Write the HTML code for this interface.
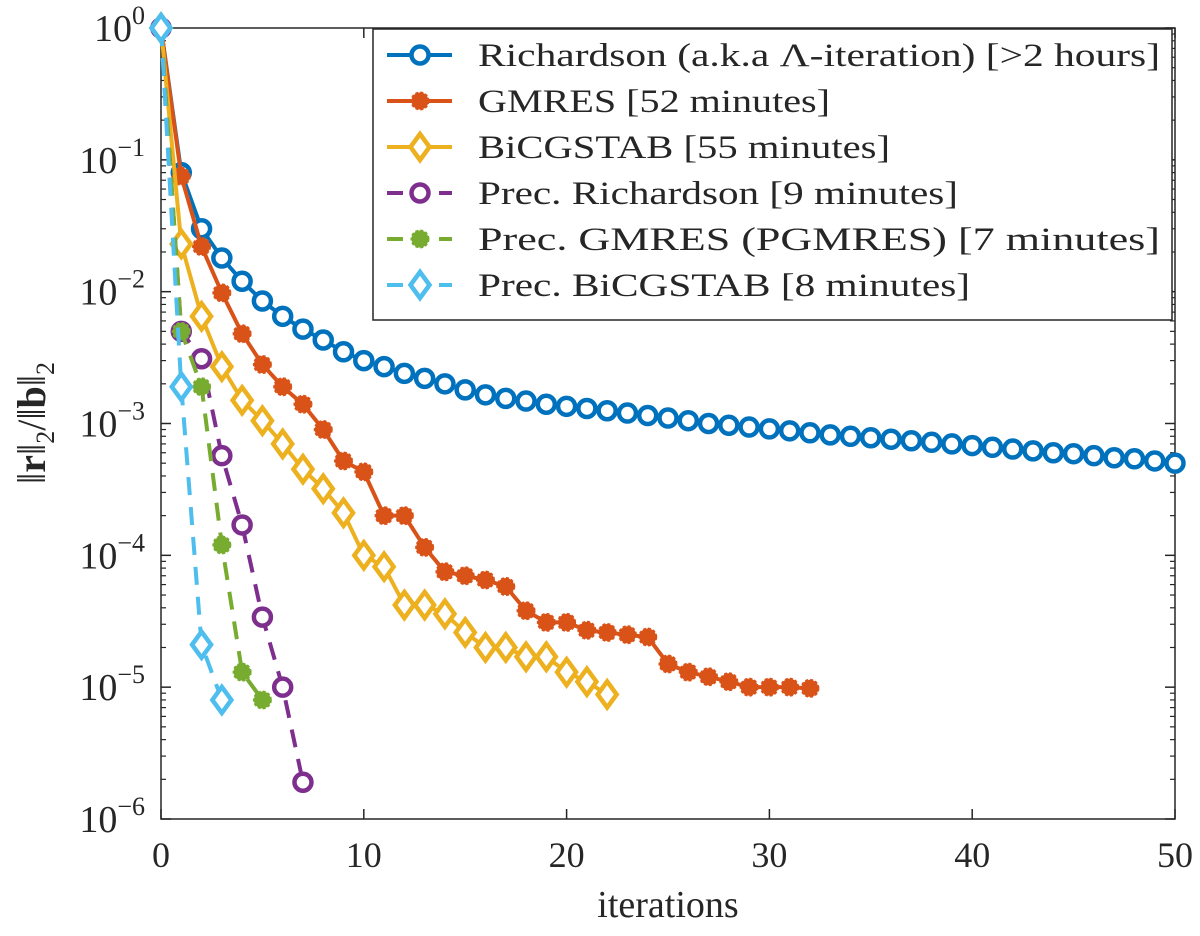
<!DOCTYPE html>
<html><head><meta charset="utf-8"><style>
body{margin:0;background:#fff;}
svg text{font-family:"Liberation Serif",serif;fill:#262626;}
</style></head><body>
<svg id="chart" width="1200" height="931" viewBox="0 0 1200 931" xmlns="http://www.w3.org/2000/svg"></svg>
<script>
const xTicks=[0,10,20,30,40,50];
const yExps=[0,-1,-2,-3,-4,-5,-6];
const names=["Richardson (a.k.a Λ-iteration) [>2 hours]","GMRES [52 minutes]","BiCGSTAB [55 minutes]","Prec. Richardson [9 minutes]","Prec. GMRES (PGMRES) [7 minutes]","Prec. BiCGSTAB [8 minutes]"];
const nameWidths=[682,352,412,480,682,492];
const richardson=[1,0.08,0.03,0.018,0.012,0.0085,0.0065,0.0052,0.0043,0.0035,0.003,0.0027,0.0024,0.0022,0.002,0.0018,0.00165,0.00155,0.00148,0.0014,0.00135,0.0013,0.00125,0.0012,0.00115,0.0011,0.00105,0.001,0.00097,0.00094,0.00091,0.00088,0.00085,0.00082,0.0008,0.00078,0.00076,0.00074,0.00072,0.0007,0.00068,0.00066,0.00064,0.00062,0.0006,0.00059,0.00057,0.00055,0.00054,0.00052,0.0005];
const gmres=[1,0.075,0.022,0.0098,0.0048,0.0028,0.0019,0.0014,0.0009,0.00052,0.00043,0.0002,0.0002,0.000115,0.000075,0.00007,0.000065,0.000058,0.000038,0.000031,0.000031,0.000027,0.000026,0.000025,0.000024,0.000015,0.000013,0.000012,0.000011,0.00001,0.00001,0.00001,0.0000098];
const bicgstab=[1,0.023,0.0065,0.0027,0.0015,0.00105,0.0007,0.00045,0.00032,0.00021,0.0001,0.000082,0.000042,0.000042,0.000036,0.000026,0.00002,0.00002,0.000017,0.000017,0.000013,0.000011,0.0000088];
const precRich=[1,0.005,0.0031,0.00057,0.00017,0.000034,0.00001,0.0000019];
const precGmres=[1,0.005,0.0019,0.00012,0.000013,0.000008];
const precBicg=[1,0.0019,0.000021,0.000008];

const NS="http://www.w3.org/2000/svg";
const svg=document.getElementById('chart');
const L=161,R=1175,T=28,B=819;
const xs=v=>L+(v/50)*(R-L);
const ys=v=>T+(-Math.log10(v)/6)*(B-T);
function el(tag,attrs,parent){const e=document.createElementNS(NS,tag);for(const k in attrs)e.setAttribute(k,attrs[k]);(parent||svg).appendChild(e);return e;}

const box=el('rect',{x:L,y:T,width:R-L,height:B-T,fill:'none',stroke:'#262626','stroke-width':1.5});


xTicks.forEach(t=>{
  const x=xs(t);
  el('line',{x1:x,y1:B,x2:x,y2:B-10,stroke:'#262626','stroke-width':1.5});
  el('line',{x1:x,y1:T,x2:x,y2:T+10,stroke:'#262626','stroke-width':1.5});
  const tx=el('text',{x:x,y:867,'font-size':36,'text-anchor':'middle'});
  tx.textContent=t;
  
  
});
yExps.forEach(e=>{
  const y=ys(Math.pow(10,e));
  el('line',{x1:L,y1:y,x2:L+10,y2:y,stroke:'#262626','stroke-width':1.5});
  el('line',{x1:R,y1:y,x2:R-10,y2:y,stroke:'#262626','stroke-width':1.5});
  if(e>-6){for(let m=2;m<=9;m++){const yy=ys(Math.pow(10,e-1)*m);
    el('line',{x1:L,y1:yy,x2:L+5,y2:yy,stroke:'#262626','stroke-width':1.2});
    el('line',{x1:R,y1:yy,x2:R-5,y2:yy,stroke:'#262626','stroke-width':1.2});}}
  const tx=el('text',{x:145,y:y+13,'font-size':38,'text-anchor':'end'});
  
  
  const a=el('tspan',{},tx);a.textContent='10';
  const b=el('tspan',{dy:-17,'font-size':26},tx);b.textContent=e===0?'0':'−'+(-e);
});
const xl=el('text',{x:668,y:917,'font-size':38,'text-anchor':'middle'});
xl.textContent='iterations';


const yl=el('text',{x:0,y:0,'font-size':40,'text-anchor':'middle',transform:'translate(45,423) rotate(-90)'});


yl.innerHTML='‖<tspan font-weight="bold">r</tspan>‖<tspan dy="9" font-size="26">2</tspan><tspan dy="-9">/‖</tspan><tspan font-weight="bold">b</tspan>‖<tspan dy="9" font-size="26">2</tspan>';

const series=[
 {d:richardson,c:'#0072BD',dash:null,m:'circle'},
 {d:gmres,c:'#D95319',dash:null,m:'star'},
 {d:bicgstab,c:'#EDB120',dash:null,m:'diamond'},
 {d:precRich,c:'#7E2F8E',dash:'18 12',m:'circle'},
 {d:precGmres,c:'#77AC30',dash:'18 12',m:'star'},
 {d:precBicg,c:'#4DBEEE',dash:'18 12',m:'diamond'}];
function marker(m,x,y,c,g){
  if(m==='circle')return el('circle',{cx:x,cy:y,r:8.5,fill:'#fff',stroke:c,'stroke-width':4.5},g);
  if(m==='star')return el('circle',{cx:x,cy:y,r:8.5,fill:c,stroke:c,'stroke-width':2,'stroke-dasharray':'3 2'},g);
  return el('polygon',{points:`${x},${y-13} ${x+9.5},${y} ${x},${y+13} ${x-9.5},${y}`,fill:'#fff',stroke:c,'stroke-width':4.5},g);
}
series.forEach((s,i)=>{
  const g=el('g',{});
  
  
  const pts=s.d.map((v,k)=>xs(k)+','+ys(v)).join(' ');
  const pl=el('polyline',{points:pts,fill:'none',stroke:s.c,'stroke-width':4},g);
  if(s.dash)pl.setAttribute('stroke-dasharray',s.dash);
  s.d.forEach((v,k)=>{const mk=marker(s.m,xs(k),ys(v),s.c,g);
    
    });
});
const lg=el('g',{});


el('rect',{x:373,y:29,width:799,height:291,fill:'#fff',stroke:'#262626','stroke-width':1.5},lg);
series.forEach((s,i)=>{
  const y=55+i*46;
  const e=el('g',{},lg);
  
  
  const ln=el('line',{x1:387,y1:y,x2:452,y2:y,stroke:s.c,'stroke-width':4},e);
  if(s.dash)ln.setAttribute('stroke-dasharray','16 10');
  marker(s.m,420,y,s.c,e);
  const t=el('text',{x:478,y:y+11,'font-size':33,textLength:nameWidths[i],lengthAdjust:'spacingAndGlyphs'},e);t.textContent=names[i];
});
</script>
</body></html>
